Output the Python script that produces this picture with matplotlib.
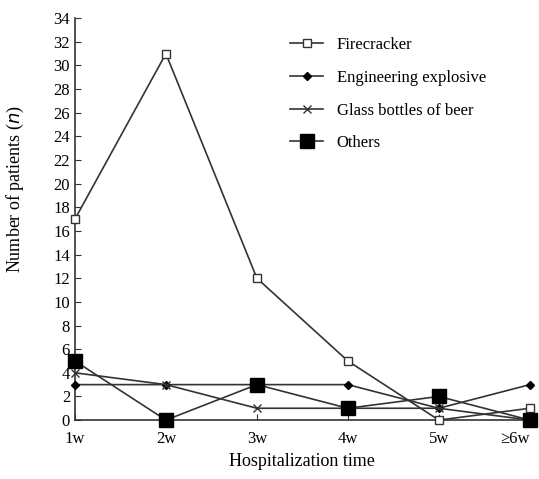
import matplotlib.pyplot as plt

plt.rcParams['font.family'] = ['Liberation Serif', 'DejaVu Serif']

# Datos
weeks = ["1w", "2w", "3w", "4w", "5w", "\u22656w"]
firecracker = [17, 31, 12, 5, 0, 1]
engineering = [3, 3, 3, 3, 1, 3]
glass_beer = [4, 3, 1, 1, 1, 0]
others = [5, 0, 3, 1, 2, 0]

line_color = "#333333"

fig = plt.figure(figsize=(5.39, 4.79), dpi=100)
ax = fig.add_axes([0.139, 0.123, 0.844, 0.839])

x = range(len(weeks))
ax.plot(x, firecracker, color=line_color, lw=1.2, marker="s", ms=6,
        mfc="white", mec=line_color, mew=1.0, label="Firecracker", clip_on=False, zorder=3)
ax.plot(x, engineering, color=line_color, lw=1.2, marker="D", ms=4,
        mfc="black", mec="black", label="Engineering explosive", clip_on=False, zorder=3)
ax.plot(x, glass_beer, color=line_color, lw=1.2, marker="x", ms=6,
        mec=line_color, mew=1.0, label="Glass bottles of beer", clip_on=False, zorder=3)
ax.plot(x, others, color=line_color, lw=1.2, marker="s", ms=10,
        mfc="black", mec="black", label="Others", clip_on=False, zorder=4)

ax.set_xlim(0, len(weeks) - 1)
ax.set_ylim(0, 34)
ax.set_yticks(range(0, 35, 2))
ax.set_xticks(list(x))
ax.set_xticklabels(weeks)
ax.get_xticklabels()[-1].set_ha("right")
ax.tick_params(direction="in", labelsize=12, color=line_color, length=4)
ax.tick_params(axis="x", pad=8)

for s in ["top", "right"]:
    ax.spines[s].set_visible(False)
for s in ["left", "bottom"]:
    ax.spines[s].set_color(line_color)
    ax.spines[s].set_linewidth(1.2)

ax.set_xlabel("Hospitalization time", fontsize=13, labelpad=4)
ax.set_ylabel("Number of patients ($\\it{n}$)", fontsize=13)
ax.yaxis.set_label_coords(-0.108, 0.575)

ax.legend(loc="upper left", bbox_to_anchor=(0.44, 0.99), frameon=False,
          fontsize=12, handlelength=2.0, labelspacing=1.0, handletextpad=0.8)

fig.savefig("out.png", dpi=100)
